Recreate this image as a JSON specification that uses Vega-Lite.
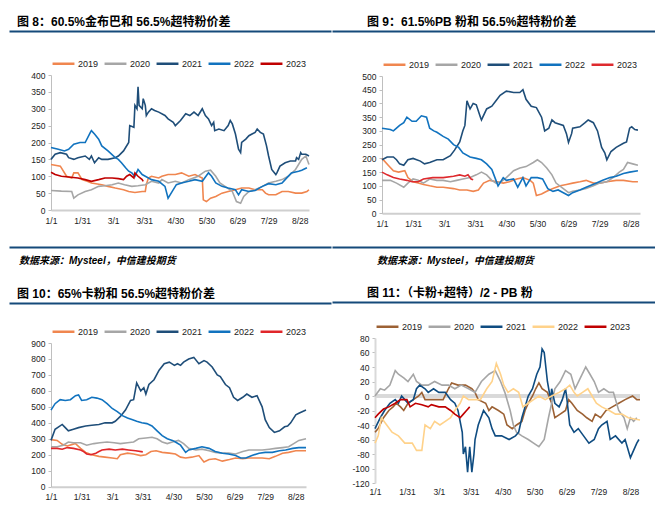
{
"$schema":"https://vega.github.io/schema/vega-lite/v6.json",
"background":"white",
"padding":{"left":8,"top":16,"right":0,"bottom":0},
"config":{"font":"Liberation Sans","view":{"stroke":null},
"axis":{"grid":false,"title":null,"labelFont":"Liberation Sans","labelFontSize":8.5,"labelColor":"#222"},
"axisX":{"domainColor":"#CFCFCF","domainWidth":2,"ticks":false,"labelPadding":6,"labelFlush":false,"labelOverlap":false},
"axisY":{"domainColor":"#BFBFBF","domainWidth":1,"tickColor":"#BFBFBF","tickSize":3,"labelPadding":3,"labelOverlap":false},
"legend":{"orient":"top","direction":"horizontal","symbolType":"stroke","symbolSize":480,"symbolStrokeWidth":2.5,"labelFontSize":9,"labelFont":"Liberation Sans","labelColor":"#222","columnPadding":0,"labelOffset":2,"offset":6,"padding":0},
"title":{"font":"Liberation Sans, Noto Sans CJK SC","fontSize":12,"fontWeight":"bold","color":"#000","anchor":"start","offset":2}},
"datasets":{
"A":[
{"s":"2019","d":0,"v":135},{"s":"2019","d":9,"v":130},{"s":"2019","d":15,"v":100},{"s":"2019","d":20,"v":95},{"s":"2019","d":22,"v":110},{"s":"2019","d":26,"v":110},{"s":"2019","d":30,"v":90},{"s":"2019","d":35,"v":85},{"s":"2019","d":39,"v":80},{"s":"2019","d":49,"v":75},{"s":"2019","d":55,"v":70},{"s":"2019","d":62,"v":65},{"s":"2019","d":70,"v":60},{"s":"2019","d":75,"v":55},{"s":"2019","d":81,"v":52},{"s":"2019","d":88,"v":55},{"s":"2019","d":91,"v":55},{"s":"2019","d":92,"v":75},{"s":"2019","d":94,"v":95},{"s":"2019","d":97,"v":100},{"s":"2019","d":104,"v":95},{"s":"2019","d":107,"v":100},{"s":"2019","d":113,"v":105},{"s":"2019","d":120,"v":105},{"s":"2019","d":126,"v":110},{"s":"2019","d":133,"v":100},{"s":"2019","d":139,"v":105},{"s":"2019","d":146,"v":95},{"s":"2019","d":147,"v":30},{"s":"2019","d":150,"v":25},{"s":"2019","d":154,"v":35},{"s":"2019","d":159,"v":40},{"s":"2019","d":165,"v":50},{"s":"2019","d":171,"v":55},{"s":"2019","d":178,"v":60},{"s":"2019","d":184,"v":65},{"s":"2019","d":191,"v":65},{"s":"2019","d":197,"v":60},{"s":"2019","d":204,"v":60},{"s":"2019","d":207,"v":50},{"s":"2019","d":210,"v":45},{"s":"2019","d":217,"v":45},{"s":"2019","d":223,"v":55},{"s":"2019","d":229,"v":55},{"s":"2019","d":236,"v":50},{"s":"2019","d":242,"v":50},{"s":"2019","d":247,"v":55},{"s":"2019","d":249,"v":60},
{"s":"2020","d":0,"v":58},{"s":"2020","d":10,"v":56},{"s":"2020","d":20,"v":55},{"s":"2020","d":22,"v":35},{"s":"2020","d":26,"v":45},{"s":"2020","d":33,"v":55},{"s":"2020","d":39,"v":60},{"s":"2020","d":46,"v":70},{"s":"2020","d":52,"v":72},{"s":"2020","d":59,"v":75},{"s":"2020","d":65,"v":80},{"s":"2020","d":71,"v":75},{"s":"2020","d":78,"v":70},{"s":"2020","d":84,"v":72},{"s":"2020","d":91,"v":75},{"s":"2020","d":94,"v":80},{"s":"2020","d":97,"v":85},{"s":"2020","d":104,"v":80},{"s":"2020","d":107,"v":90},{"s":"2020","d":113,"v":80},{"s":"2020","d":120,"v":85},{"s":"2020","d":126,"v":80},{"s":"2020","d":133,"v":90},{"s":"2020","d":142,"v":100},{"s":"2020","d":149,"v":115},{"s":"2020","d":154,"v":118},{"s":"2020","d":159,"v":100},{"s":"2020","d":163,"v":80},{"s":"2020","d":168,"v":70},{"s":"2020","d":175,"v":55},{"s":"2020","d":179,"v":25},{"s":"2020","d":183,"v":20},{"s":"2020","d":186,"v":40},{"s":"2020","d":191,"v":55},{"s":"2020","d":197,"v":60},{"s":"2020","d":204,"v":70},{"s":"2020","d":210,"v":80},{"s":"2020","d":217,"v":85},{"s":"2020","d":223,"v":90},{"s":"2020","d":229,"v":100},{"s":"2020","d":236,"v":120},{"s":"2020","d":242,"v":150},{"s":"2020","d":246,"v":160},{"s":"2020","d":249,"v":135},
{"s":"2021","d":0,"v":150},{"s":"2021","d":4,"v":165},{"s":"2021","d":9,"v":170},{"s":"2021","d":15,"v":165},{"s":"2021","d":17,"v":155},{"s":"2021","d":22,"v":150},{"s":"2021","d":26,"v":155},{"s":"2021","d":33,"v":160},{"s":"2021","d":37,"v":150},{"s":"2021","d":39,"v":160},{"s":"2021","d":42,"v":140},{"s":"2021","d":46,"v":155},{"s":"2021","d":49,"v":150},{"s":"2021","d":55,"v":150},{"s":"2021","d":62,"v":155},{"s":"2021","d":65,"v":160},{"s":"2021","d":70,"v":175},{"s":"2021","d":75,"v":200},{"s":"2021","d":76,"v":250},{"s":"2021","d":80,"v":245},{"s":"2021","d":81,"v":310},{"s":"2021","d":83,"v":300},{"s":"2021","d":84,"v":365},{"s":"2021","d":85,"v":310},{"s":"2021","d":88,"v":300},{"s":"2021","d":89,"v":330},{"s":"2021","d":91,"v":310},{"s":"2021","d":92,"v":280},{"s":"2021","d":94,"v":290},{"s":"2021","d":97,"v":300},{"s":"2021","d":100,"v":295},{"s":"2021","d":104,"v":290},{"s":"2021","d":110,"v":280},{"s":"2021","d":113,"v":270},{"s":"2021","d":118,"v":260},{"s":"2021","d":120,"v":250},{"s":"2021","d":125,"v":265},{"s":"2021","d":130,"v":285},{"s":"2021","d":134,"v":280},{"s":"2021","d":138,"v":290},{"s":"2021","d":142,"v":280},{"s":"2021","d":146,"v":300},{"s":"2021","d":149,"v":280},{"s":"2021","d":152,"v":270},{"s":"2021","d":155,"v":250},{"s":"2021","d":157,"v":260},{"s":"2021","d":158,"v":235},{"s":"2021","d":162,"v":240},{"s":"2021","d":167,"v":235},{"s":"2021","d":171,"v":250},{"s":"2021","d":173,"v":265},{"s":"2021","d":175,"v":255},{"s":"2021","d":178,"v":225},{"s":"2021","d":181,"v":180},{"s":"2021","d":183,"v":170},{"s":"2021","d":184,"v":200},{"s":"2021","d":188,"v":210},{"s":"2021","d":191,"v":220},{"s":"2021","d":194,"v":225},{"s":"2021","d":197,"v":230},{"s":"2021","d":199,"v":240},{"s":"2021","d":202,"v":230},{"s":"2021","d":205,"v":225},{"s":"2021","d":208,"v":190},{"s":"2021","d":210,"v":160},{"s":"2021","d":213,"v":120},{"s":"2021","d":217,"v":105},{"s":"2021","d":218,"v":110},{"s":"2021","d":221,"v":130},{"s":"2021","d":226,"v":140},{"s":"2021","d":231,"v":145},{"s":"2021","d":236,"v":145},{"s":"2021","d":237,"v":155},{"s":"2021","d":239,"v":150},{"s":"2021","d":241,"v":170},{"s":"2021","d":242,"v":165},{"s":"2021","d":246,"v":165},{"s":"2021","d":249,"v":160},
{"s":"2022","d":0,"v":185},{"s":"2022","d":7,"v":180},{"s":"2022","d":13,"v":175},{"s":"2022","d":17,"v":180},{"s":"2022","d":22,"v":195},{"s":"2022","d":28,"v":200},{"s":"2022","d":33,"v":200},{"s":"2022","d":38,"v":230},{"s":"2022","d":39,"v":235},{"s":"2022","d":42,"v":225},{"s":"2022","d":46,"v":210},{"s":"2022","d":49,"v":190},{"s":"2022","d":55,"v":175},{"s":"2022","d":62,"v":155},{"s":"2022","d":65,"v":150},{"s":"2022","d":68,"v":140},{"s":"2022","d":72,"v":125},{"s":"2022","d":75,"v":115},{"s":"2022","d":78,"v":110},{"s":"2022","d":81,"v":100},{"s":"2022","d":84,"v":120},{"s":"2022","d":88,"v":105},{"s":"2022","d":91,"v":100},{"s":"2022","d":97,"v":90},{"s":"2022","d":104,"v":85},{"s":"2022","d":110,"v":70},{"s":"2022","d":113,"v":35},{"s":"2022","d":117,"v":55},{"s":"2022","d":121,"v":75},{"s":"2022","d":126,"v":80},{"s":"2022","d":133,"v":85},{"s":"2022","d":139,"v":90},{"s":"2022","d":146,"v":85},{"s":"2022","d":152,"v":110},{"s":"2022","d":155,"v":100},{"s":"2022","d":159,"v":80},{"s":"2022","d":165,"v":70},{"s":"2022","d":171,"v":65},{"s":"2022","d":178,"v":60},{"s":"2022","d":181,"v":45},{"s":"2022","d":184,"v":60},{"s":"2022","d":191,"v":55},{"s":"2022","d":197,"v":58},{"s":"2022","d":204,"v":70},{"s":"2022","d":210,"v":78},{"s":"2022","d":217,"v":75},{"s":"2022","d":223,"v":80},{"s":"2022","d":226,"v":90},{"s":"2022","d":232,"v":110},{"s":"2022","d":239,"v":115},{"s":"2022","d":242,"v":118},{"s":"2022","d":247,"v":125},
{"s":"2023","d":0,"v":112},{"s":"2023","d":4,"v":105},{"s":"2023","d":10,"v":100},{"s":"2023","d":17,"v":98},{"s":"2023","d":26,"v":95},{"s":"2023","d":33,"v":90},{"s":"2023","d":39,"v":85},{"s":"2023","d":46,"v":90},{"s":"2023","d":52,"v":95},{"s":"2023","d":59,"v":95},{"s":"2023","d":65,"v":93},{"s":"2023","d":70,"v":90},{"s":"2023","d":73,"v":100},{"s":"2023","d":76,"v":105},{"s":"2023","d":80,"v":95},{"s":"2023","d":81,"v":110},{"s":"2023","d":84,"v":100},{"s":"2023","d":88,"v":90},{"s":"2023","d":89,"v":85}],
"B":[
{"s":"2019","d":0,"v":200},{"s":"2019","d":6,"v":175},{"s":"2019","d":11,"v":155},{"s":"2019","d":16,"v":150},{"s":"2019","d":22,"v":155},{"s":"2019","d":25,"v":130},{"s":"2019","d":30,"v":115},{"s":"2019","d":35,"v":110},{"s":"2019","d":40,"v":105},{"s":"2019","d":46,"v":100},{"s":"2019","d":53,"v":95},{"s":"2019","d":59,"v":95},{"s":"2019","d":69,"v":90},{"s":"2019","d":75,"v":85},{"s":"2019","d":82,"v":85},{"s":"2019","d":88,"v":80},{"s":"2019","d":93,"v":85},{"s":"2019","d":98,"v":110},{"s":"2019","d":104,"v":120},{"s":"2019","d":111,"v":115},{"s":"2019","d":117,"v":110},{"s":"2019","d":123,"v":115},{"s":"2019","d":130,"v":125},{"s":"2019","d":136,"v":130},{"s":"2019","d":143,"v":120},{"s":"2019","d":146,"v":110},{"s":"2019","d":149,"v":65},{"s":"2019","d":154,"v":70},{"s":"2019","d":159,"v":80},{"s":"2019","d":165,"v":90},{"s":"2019","d":172,"v":100},{"s":"2019","d":178,"v":105},{"s":"2019","d":184,"v":110},{"s":"2019","d":191,"v":115},{"s":"2019","d":197,"v":120},{"s":"2019","d":204,"v":110},{"s":"2019","d":210,"v":110},{"s":"2019","d":217,"v":115},{"s":"2019","d":226,"v":120},{"s":"2019","d":233,"v":120},{"s":"2019","d":242,"v":115},{"s":"2019","d":247,"v":115},
{"s":"2020","d":0,"v":120},{"s":"2020","d":8,"v":120},{"s":"2020","d":14,"v":110},{"s":"2020","d":21,"v":95},{"s":"2020","d":25,"v":110},{"s":"2020","d":30,"v":125},{"s":"2020","d":35,"v":120},{"s":"2020","d":40,"v":110},{"s":"2020","d":46,"v":125},{"s":"2020","d":53,"v":120},{"s":"2020","d":59,"v":120},{"s":"2020","d":66,"v":115},{"s":"2020","d":72,"v":120},{"s":"2020","d":78,"v":125},{"s":"2020","d":85,"v":130},{"s":"2020","d":91,"v":140},{"s":"2020","d":96,"v":150},{"s":"2020","d":101,"v":140},{"s":"2020","d":106,"v":120},{"s":"2020","d":110,"v":110},{"s":"2020","d":115,"v":115},{"s":"2020","d":120,"v":130},{"s":"2020","d":127,"v":155},{"s":"2020","d":133,"v":165},{"s":"2020","d":139,"v":170},{"s":"2020","d":146,"v":185},{"s":"2020","d":150,"v":195},{"s":"2020","d":154,"v":185},{"s":"2020","d":159,"v":165},{"s":"2020","d":164,"v":140},{"s":"2020","d":168,"v":110},{"s":"2020","d":175,"v":90},{"s":"2020","d":180,"v":75},{"s":"2020","d":184,"v":80},{"s":"2020","d":191,"v":85},{"s":"2020","d":197,"v":90},{"s":"2020","d":204,"v":100},{"s":"2020","d":210,"v":110},{"s":"2020","d":217,"v":115},{"s":"2020","d":223,"v":130},{"s":"2020","d":229,"v":150},{"s":"2020","d":233,"v":160},{"s":"2020","d":237,"v":185},{"s":"2020","d":242,"v":180},{"s":"2020","d":247,"v":175},
{"s":"2021","d":0,"v":195},{"s":"2021","d":5,"v":205},{"s":"2021","d":11,"v":205},{"s":"2021","d":14,"v":195},{"s":"2021","d":17,"v":180},{"s":"2021","d":21,"v":175},{"s":"2021","d":25,"v":195},{"s":"2021","d":30,"v":200},{"s":"2021","d":37,"v":190},{"s":"2021","d":41,"v":180},{"s":"2021","d":46,"v":185},{"s":"2021","d":53,"v":195},{"s":"2021","d":59,"v":195},{"s":"2021","d":66,"v":210},{"s":"2021","d":70,"v":230},{"s":"2021","d":75,"v":260},{"s":"2021","d":78,"v":300},{"s":"2021","d":80,"v":320},{"s":"2021","d":82,"v":410},{"s":"2021","d":85,"v":380},{"s":"2021","d":88,"v":400},{"s":"2021","d":91,"v":395},{"s":"2021","d":95,"v":350},{"s":"2021","d":96,"v":340},{"s":"2021","d":101,"v":380},{"s":"2021","d":106,"v":390},{"s":"2021","d":110,"v":410},{"s":"2021","d":114,"v":430},{"s":"2021","d":120,"v":445},{"s":"2021","d":127,"v":440},{"s":"2021","d":133,"v":440},{"s":"2021","d":136,"v":450},{"s":"2021","d":139,"v":415},{"s":"2021","d":144,"v":390},{"s":"2021","d":149,"v":385},{"s":"2021","d":154,"v":350},{"s":"2021","d":157,"v":300},{"s":"2021","d":161,"v":310},{"s":"2021","d":164,"v":340},{"s":"2021","d":167,"v":330},{"s":"2021","d":175,"v":320},{"s":"2021","d":178,"v":290},{"s":"2021","d":180,"v":258},{"s":"2021","d":183,"v":290},{"s":"2021","d":184,"v":310},{"s":"2021","d":191,"v":315},{"s":"2021","d":196,"v":330},{"s":"2021","d":199,"v":340},{"s":"2021","d":204,"v":330},{"s":"2021","d":208,"v":300},{"s":"2021","d":212,"v":240},{"s":"2021","d":215,"v":220},{"s":"2021","d":217,"v":195},{"s":"2021","d":221,"v":225},{"s":"2021","d":226,"v":240},{"s":"2021","d":233,"v":255},{"s":"2021","d":236,"v":260},{"s":"2021","d":239,"v":310},{"s":"2021","d":241,"v":315},{"s":"2021","d":244,"v":305},{"s":"2021","d":247,"v":303},
{"s":"2022","d":0,"v":310},{"s":"2022","d":8,"v":305},{"s":"2022","d":11,"v":300},{"s":"2022","d":14,"v":310},{"s":"2022","d":17,"v":320},{"s":"2022","d":21,"v":330},{"s":"2022","d":24,"v":350},{"s":"2022","d":29,"v":335},{"s":"2022","d":33,"v":335},{"s":"2022","d":38,"v":355},{"s":"2022","d":43,"v":350},{"s":"2022","d":46,"v":310},{"s":"2022","d":50,"v":300},{"s":"2022","d":53,"v":295},{"s":"2022","d":59,"v":280},{"s":"2022","d":64,"v":270},{"s":"2022","d":69,"v":250},{"s":"2022","d":74,"v":240},{"s":"2022","d":78,"v":220},{"s":"2022","d":85,"v":205},{"s":"2022","d":91,"v":200},{"s":"2022","d":96,"v":195},{"s":"2022","d":101,"v":180},{"s":"2022","d":106,"v":160},{"s":"2022","d":109,"v":130},{"s":"2022","d":112,"v":100},{"s":"2022","d":117,"v":130},{"s":"2022","d":120,"v":120},{"s":"2022","d":127,"v":125},{"s":"2022","d":131,"v":95},{"s":"2022","d":136,"v":130},{"s":"2022","d":139,"v":100},{"s":"2022","d":144,"v":130},{"s":"2022","d":150,"v":130},{"s":"2022","d":155,"v":125},{"s":"2022","d":160,"v":90},{"s":"2022","d":165,"v":80},{"s":"2022","d":170,"v":85},{"s":"2022","d":175,"v":75},{"s":"2022","d":180,"v":65},{"s":"2022","d":184,"v":75},{"s":"2022","d":191,"v":85},{"s":"2022","d":197,"v":95},{"s":"2022","d":207,"v":110},{"s":"2022","d":213,"v":120},{"s":"2022","d":220,"v":130},{"s":"2022","d":226,"v":135},{"s":"2022","d":233,"v":145},{"s":"2022","d":239,"v":150},{"s":"2022","d":247,"v":155},
{"s":"2023","d":0,"v":150},{"s":"2023","d":5,"v":140},{"s":"2023","d":11,"v":130},{"s":"2023","d":17,"v":125},{"s":"2023","d":24,"v":120},{"s":"2023","d":29,"v":115},{"s":"2023","d":35,"v":115},{"s":"2023","d":40,"v":125},{"s":"2023","d":49,"v":130},{"s":"2023","d":59,"v":130},{"s":"2023","d":69,"v":135},{"s":"2023","d":75,"v":140},{"s":"2023","d":80,"v":135},{"s":"2023","d":83,"v":140},{"s":"2023","d":86,"v":125},{"s":"2023","d":88,"v":122}],
"C":[
{"s":"2019","d":0,"v":295},{"s":"2019","d":6,"v":290},{"s":"2019","d":11,"v":265},{"s":"2019","d":16,"v":255},{"s":"2019","d":21,"v":265},{"s":"2019","d":24,"v":270},{"s":"2019","d":29,"v":240},{"s":"2019","d":34,"v":215},{"s":"2019","d":40,"v":200},{"s":"2019","d":47,"v":190},{"s":"2019","d":53,"v":185},{"s":"2019","d":60,"v":180},{"s":"2019","d":65,"v":175},{"s":"2019","d":68,"v":200},{"s":"2019","d":75,"v":210},{"s":"2019","d":81,"v":205},{"s":"2019","d":88,"v":195},{"s":"2019","d":93,"v":200},{"s":"2019","d":98,"v":220},{"s":"2019","d":103,"v":225},{"s":"2019","d":109,"v":215},{"s":"2019","d":116,"v":210},{"s":"2019","d":122,"v":205},{"s":"2019","d":127,"v":185},{"s":"2019","d":132,"v":180},{"s":"2019","d":138,"v":185},{"s":"2019","d":145,"v":195},{"s":"2019","d":148,"v":170},{"s":"2019","d":150,"v":155},{"s":"2019","d":155,"v":170},{"s":"2019","d":161,"v":175},{"s":"2019","d":168,"v":160},{"s":"2019","d":175,"v":170},{"s":"2019","d":181,"v":180},{"s":"2019","d":188,"v":175},{"s":"2019","d":194,"v":180},{"s":"2019","d":201,"v":180},{"s":"2019","d":207,"v":180},{"s":"2019","d":214,"v":175},{"s":"2019","d":220,"v":190},{"s":"2019","d":227,"v":210},{"s":"2019","d":233,"v":215},{"s":"2019","d":240,"v":225},{"s":"2019","d":250,"v":225},
{"s":"2020","d":0,"v":250},{"s":"2020","d":6,"v":250},{"s":"2020","d":12,"v":260},{"s":"2020","d":17,"v":280},{"s":"2020","d":22,"v":275},{"s":"2020","d":29,"v":275},{"s":"2020","d":35,"v":260},{"s":"2020","d":42,"v":270},{"s":"2020","d":48,"v":275},{"s":"2020","d":55,"v":280},{"s":"2020","d":62,"v":275},{"s":"2020","d":68,"v":270},{"s":"2020","d":75,"v":275},{"s":"2020","d":81,"v":280},{"s":"2020","d":86,"v":300},{"s":"2020","d":93,"v":305},{"s":"2020","d":99,"v":310},{"s":"2020","d":104,"v":300},{"s":"2020","d":109,"v":280},{"s":"2020","d":114,"v":270},{"s":"2020","d":119,"v":280},{"s":"2020","d":125,"v":290},{"s":"2020","d":130,"v":270},{"s":"2020","d":135,"v":240},{"s":"2020","d":142,"v":230},{"s":"2020","d":148,"v":235},{"s":"2020","d":155,"v":225},{"s":"2020","d":161,"v":215},{"s":"2020","d":168,"v":210},{"s":"2020","d":174,"v":210},{"s":"2020","d":181,"v":205},{"s":"2020","d":188,"v":220},{"s":"2020","d":194,"v":230},{"s":"2020","d":201,"v":230},{"s":"2020","d":207,"v":230},{"s":"2020","d":214,"v":235},{"s":"2020","d":220,"v":240},{"s":"2020","d":227,"v":245},{"s":"2020","d":233,"v":250},{"s":"2020","d":238,"v":270},{"s":"2020","d":243,"v":290},{"s":"2020","d":250,"v":300},
{"s":"2021","d":0,"v":290},{"s":"2021","d":4,"v":360},{"s":"2021","d":11,"v":390},{"s":"2021","d":14,"v":370},{"s":"2021","d":17,"v":350},{"s":"2021","d":22,"v":360},{"s":"2021","d":27,"v":370},{"s":"2021","d":34,"v":380},{"s":"2021","d":40,"v":385},{"s":"2021","d":47,"v":390},{"s":"2021","d":53,"v":400},{"s":"2021","d":60,"v":400},{"s":"2021","d":63,"v":410},{"s":"2021","d":68,"v":440},{"s":"2021","d":73,"v":480},{"s":"2021","d":78,"v":540},{"s":"2021","d":81,"v":545},{"s":"2021","d":84,"v":650},{"s":"2021","d":88,"v":600},{"s":"2021","d":91,"v":620},{"s":"2021","d":93,"v":580},{"s":"2021","d":96,"v":640},{"s":"2021","d":101,"v":670},{"s":"2021","d":106,"v":730},{"s":"2021","d":111,"v":770},{"s":"2021","d":116,"v":780},{"s":"2021","d":121,"v":760},{"s":"2021","d":124,"v":770},{"s":"2021","d":127,"v":760},{"s":"2021","d":130,"v":780},{"s":"2021","d":135,"v":800},{"s":"2021","d":140,"v":810},{"s":"2021","d":145,"v":770},{"s":"2021","d":150,"v":790},{"s":"2021","d":153,"v":780},{"s":"2021","d":158,"v":750},{"s":"2021","d":163,"v":700},{"s":"2021","d":166,"v":690},{"s":"2021","d":171,"v":640},{"s":"2021","d":175,"v":620},{"s":"2021","d":179,"v":560},{"s":"2021","d":183,"v":540},{"s":"2021","d":188,"v":560},{"s":"2021","d":192,"v":580},{"s":"2021","d":197,"v":560},{"s":"2021","d":202,"v":570},{"s":"2021","d":207,"v":500},{"s":"2021","d":210,"v":420},{"s":"2021","d":214,"v":370},{"s":"2021","d":219,"v":340},{"s":"2021","d":224,"v":350},{"s":"2021","d":229,"v":375},{"s":"2021","d":232,"v":380},{"s":"2021","d":235,"v":400},{"s":"2021","d":240,"v":450},{"s":"2021","d":243,"v":460},{"s":"2021","d":250,"v":480},
{"s":"2022","d":0,"v":480},{"s":"2022","d":4,"v":520},{"s":"2022","d":9,"v":545},{"s":"2022","d":14,"v":540},{"s":"2022","d":19,"v":545},{"s":"2022","d":24,"v":570},{"s":"2022","d":27,"v":575},{"s":"2022","d":30,"v":540},{"s":"2022","d":35,"v":545},{"s":"2022","d":40,"v":560},{"s":"2022","d":45,"v":555},{"s":"2022","d":50,"v":545},{"s":"2022","d":55,"v":520},{"s":"2022","d":60,"v":490},{"s":"2022","d":65,"v":470},{"s":"2022","d":70,"v":445},{"s":"2022","d":75,"v":430},{"s":"2022","d":80,"v":420},{"s":"2022","d":84,"v":410},{"s":"2022","d":89,"v":400},{"s":"2022","d":94,"v":395},{"s":"2022","d":99,"v":380},{"s":"2022","d":104,"v":350},{"s":"2022","d":109,"v":320},{"s":"2022","d":114,"v":300},{"s":"2022","d":119,"v":290},{"s":"2022","d":122,"v":280},{"s":"2022","d":127,"v":260},{"s":"2022","d":132,"v":215},{"s":"2022","d":135,"v":230},{"s":"2022","d":142,"v":240},{"s":"2022","d":148,"v":250},{"s":"2022","d":155,"v":240},{"s":"2022","d":161,"v":220},{"s":"2022","d":168,"v":210},{"s":"2022","d":174,"v":205},{"s":"2022","d":181,"v":195},{"s":"2022","d":186,"v":180},{"s":"2022","d":191,"v":180},{"s":"2022","d":197,"v":195},{"s":"2022","d":204,"v":210},{"s":"2022","d":210,"v":215},{"s":"2022","d":217,"v":215},{"s":"2022","d":224,"v":225},{"s":"2022","d":230,"v":230},{"s":"2022","d":237,"v":240},{"s":"2022","d":243,"v":245},{"s":"2022","d":250,"v":245},
{"s":"2023","d":0,"v":240},{"s":"2023","d":6,"v":240},{"s":"2023","d":11,"v":235},{"s":"2023","d":16,"v":245},{"s":"2023","d":22,"v":240},{"s":"2023","d":29,"v":230},{"s":"2023","d":32,"v":220},{"s":"2023","d":35,"v":205},{"s":"2023","d":39,"v":200},{"s":"2023","d":44,"v":210},{"s":"2023","d":47,"v":220},{"s":"2023","d":50,"v":230},{"s":"2023","d":57,"v":235},{"s":"2023","d":63,"v":230},{"s":"2023","d":70,"v":235},{"s":"2023","d":76,"v":230},{"s":"2023","d":83,"v":225},{"s":"2023","d":90,"v":218}],
"D":[
{"s":"2019","d":0,"v":-50},{"s":"2019","d":3,"v":-45},{"s":"2019","d":8,"v":-30},{"s":"2019","d":13,"v":-20},{"s":"2019","d":17,"v":-15},{"s":"2019","d":20,"v":-10},{"s":"2019","d":24,"v":-15},{"s":"2019","d":27,"v":-20},{"s":"2019","d":31,"v":-10},{"s":"2019","d":36,"v":-5},{"s":"2019","d":41,"v":0},{"s":"2019","d":44,"v":5},{"s":"2019","d":47,"v":-5},{"s":"2019","d":53,"v":-5},{"s":"2019","d":60,"v":-5},{"s":"2019","d":64,"v":-5},{"s":"2019","d":69,"v":10},{"s":"2019","d":72,"v":18},{"s":"2019","d":78,"v":15},{"s":"2019","d":85,"v":15},{"s":"2019","d":91,"v":10},{"s":"2019","d":94,"v":5},{"s":"2019","d":97,"v":-5},{"s":"2019","d":104,"v":-10},{"s":"2019","d":107,"v":-20},{"s":"2019","d":110,"v":-15},{"s":"2019","d":116,"v":-20},{"s":"2019","d":121,"v":-25},{"s":"2019","d":124,"v":-40},{"s":"2019","d":129,"v":-45},{"s":"2019","d":133,"v":-40},{"s":"2019","d":138,"v":-35},{"s":"2019","d":141,"v":-20},{"s":"2019","d":144,"v":-10},{"s":"2019","d":148,"v":0},{"s":"2019","d":151,"v":10},{"s":"2019","d":154,"v":18},{"s":"2019","d":157,"v":10},{"s":"2019","d":162,"v":5},{"s":"2019","d":166,"v":-10},{"s":"2019","d":169,"v":-30},{"s":"2019","d":174,"v":-25},{"s":"2019","d":179,"v":-20},{"s":"2019","d":182,"v":-5},{"s":"2019","d":185,"v":-10},{"s":"2019","d":190,"v":-20},{"s":"2019","d":195,"v":-25},{"s":"2019","d":199,"v":-30},{"s":"2019","d":204,"v":-35},{"s":"2019","d":207,"v":-25},{"s":"2019","d":212,"v":-30},{"s":"2019","d":217,"v":-20},{"s":"2019","d":223,"v":-15},{"s":"2019","d":229,"v":-10},{"s":"2019","d":235,"v":-5},{"s":"2019","d":242,"v":0},{"s":"2019","d":246,"v":-5},{"s":"2019","d":249,"v":-5},
{"s":"2020","d":0,"v":0},{"s":"2020","d":5,"v":10},{"s":"2020","d":9,"v":8},{"s":"2020","d":14,"v":15},{"s":"2020","d":19,"v":35},{"s":"2020","d":22,"v":30},{"s":"2020","d":27,"v":25},{"s":"2020","d":31,"v":20},{"s":"2020","d":36,"v":30},{"s":"2020","d":39,"v":20},{"s":"2020","d":44,"v":15},{"s":"2020","d":50,"v":15},{"s":"2020","d":56,"v":20},{"s":"2020","d":63,"v":15},{"s":"2020","d":69,"v":15},{"s":"2020","d":75,"v":10},{"s":"2020","d":81,"v":15},{"s":"2020","d":88,"v":10},{"s":"2020","d":94,"v":5},{"s":"2020","d":100,"v":20},{"s":"2020","d":107,"v":30},{"s":"2020","d":113,"v":35},{"s":"2020","d":118,"v":20},{"s":"2020","d":122,"v":5},{"s":"2020","d":127,"v":-20},{"s":"2020","d":130,"v":-40},{"s":"2020","d":133,"v":-50},{"s":"2020","d":138,"v":-55},{"s":"2020","d":144,"v":-60},{"s":"2020","d":149,"v":-65},{"s":"2020","d":154,"v":-70},{"s":"2020","d":159,"v":-60},{"s":"2020","d":163,"v":-30},{"s":"2020","d":166,"v":-10},{"s":"2020","d":169,"v":10},{"s":"2020","d":174,"v":20},{"s":"2020","d":179,"v":35},{"s":"2020","d":184,"v":30},{"s":"2020","d":188,"v":10},{"s":"2020","d":193,"v":25},{"s":"2020","d":198,"v":40},{"s":"2020","d":202,"v":30},{"s":"2020","d":206,"v":20},{"s":"2020","d":210,"v":5},{"s":"2020","d":215,"v":10},{"s":"2020","d":220,"v":5},{"s":"2020","d":224,"v":5},{"s":"2020","d":229,"v":-20},{"s":"2020","d":234,"v":-30},{"s":"2020","d":237,"v":-45},{"s":"2020","d":240,"v":-30},{"s":"2020","d":243,"v":-35},{"s":"2020","d":246,"v":-30},
{"s":"2021","d":0,"v":-45},{"s":"2021","d":5,"v":-30},{"s":"2021","d":9,"v":-20},{"s":"2021","d":14,"v":-10},{"s":"2021","d":19,"v":-5},{"s":"2021","d":22,"v":-10},{"s":"2021","d":25,"v":0},{"s":"2021","d":28,"v":-5},{"s":"2021","d":31,"v":-10},{"s":"2021","d":36,"v":-5},{"s":"2021","d":39,"v":10},{"s":"2021","d":42,"v":15},{"s":"2021","d":47,"v":10},{"s":"2021","d":50,"v":5},{"s":"2021","d":55,"v":10},{"s":"2021","d":60,"v":5},{"s":"2021","d":66,"v":5},{"s":"2021","d":71,"v":-5},{"s":"2021","d":75,"v":-10},{"s":"2021","d":78,"v":-20},{"s":"2021","d":82,"v":-50},{"s":"2021","d":83,"v":-80},{"s":"2021","d":85,"v":-70},{"s":"2021","d":87,"v":-105},{"s":"2021","d":89,"v":-70},{"s":"2021","d":91,"v":-105},{"s":"2021","d":93,"v":-80},{"s":"2021","d":94,"v":-60},{"s":"2021","d":97,"v":-40},{"s":"2021","d":102,"v":-20},{"s":"2021","d":107,"v":-30},{"s":"2021","d":110,"v":-45},{"s":"2021","d":113,"v":-55},{"s":"2021","d":119,"v":-55},{"s":"2021","d":126,"v":-60},{"s":"2021","d":132,"v":-55},{"s":"2021","d":135,"v":-50},{"s":"2021","d":138,"v":-30},{"s":"2021","d":141,"v":-15},{"s":"2021","d":144,"v":0},{"s":"2021","d":148,"v":10},{"s":"2021","d":152,"v":30},{"s":"2021","d":155,"v":40},{"s":"2021","d":157,"v":65},{"s":"2021","d":159,"v":60},{"s":"2021","d":162,"v":20},{"s":"2021","d":165,"v":-5},{"s":"2021","d":166,"v":10},{"s":"2021","d":169,"v":-10},{"s":"2021","d":173,"v":-15},{"s":"2021","d":176,"v":-5},{"s":"2021","d":179,"v":10},{"s":"2021","d":180,"v":0},{"s":"2021","d":183,"v":-40},{"s":"2021","d":187,"v":-50},{"s":"2021","d":191,"v":-45},{"s":"2021","d":196,"v":-55},{"s":"2021","d":201,"v":-65},{"s":"2021","d":206,"v":-60},{"s":"2021","d":210,"v":-45},{"s":"2021","d":213,"v":-40},{"s":"2021","d":218,"v":-35},{"s":"2021","d":221,"v":-60},{"s":"2021","d":226,"v":-55},{"s":"2021","d":232,"v":-65},{"s":"2021","d":235,"v":-60},{"s":"2021","d":240,"v":-85},{"s":"2021","d":243,"v":-75},{"s":"2021","d":246,"v":-65},{"s":"2021","d":248,"v":-60},
{"s":"2022","d":0,"v":-65},{"s":"2022","d":3,"v":-55},{"s":"2022","d":6,"v":-30},{"s":"2022","d":11,"v":-40},{"s":"2022","d":16,"v":-50},{"s":"2022","d":22,"v":-55},{"s":"2022","d":28,"v":-65},{"s":"2022","d":35,"v":-65},{"s":"2022","d":39,"v":-75},{"s":"2022","d":44,"v":-75},{"s":"2022","d":47,"v":-40},{"s":"2022","d":52,"v":-45},{"s":"2022","d":56,"v":-35},{"s":"2022","d":61,"v":-40},{"s":"2022","d":66,"v":-35},{"s":"2022","d":71,"v":-30},{"s":"2022","d":75,"v":-20},{"s":"2022","d":80,"v":-10},{"s":"2022","d":83,"v":0},{"s":"2022","d":88,"v":-5},{"s":"2022","d":93,"v":-5},{"s":"2022","d":99,"v":-5},{"s":"2022","d":105,"v":10},{"s":"2022","d":110,"v":20},{"s":"2022","d":114,"v":45},{"s":"2022","d":118,"v":30},{"s":"2022","d":121,"v":15},{"s":"2022","d":125,"v":5},{"s":"2022","d":130,"v":10},{"s":"2022","d":135,"v":5},{"s":"2022","d":139,"v":-15},{"s":"2022","d":144,"v":-10},{"s":"2022","d":149,"v":-5},{"s":"2022","d":154,"v":0},{"s":"2022","d":160,"v":-5},{"s":"2022","d":166,"v":0},{"s":"2022","d":173,"v":5},{"s":"2022","d":179,"v":10},{"s":"2022","d":183,"v":15},{"s":"2022","d":187,"v":5},{"s":"2022","d":190,"v":0},{"s":"2022","d":195,"v":5},{"s":"2022","d":200,"v":10},{"s":"2022","d":204,"v":0},{"s":"2022","d":208,"v":-10},{"s":"2022","d":213,"v":-15},{"s":"2022","d":220,"v":-20},{"s":"2022","d":226,"v":-25},{"s":"2022","d":232,"v":-25},{"s":"2022","d":238,"v":-30},{"s":"2022","d":245,"v":-32},{"s":"2022","d":249,"v":-33},
{"s":"2023","d":0,"v":-30},{"s":"2023","d":3,"v":-25},{"s":"2023","d":8,"v":-18},{"s":"2023","d":13,"v":-15},{"s":"2023","d":19,"v":-10},{"s":"2023","d":24,"v":-5},{"s":"2023","d":30,"v":-5},{"s":"2023","d":33,"v":-15},{"s":"2023","d":38,"v":-10},{"s":"2023","d":44,"v":-12},{"s":"2023","d":50,"v":-15},{"s":"2023","d":53,"v":-12},{"s":"2023","d":60,"v":-15},{"s":"2023","d":66,"v":-15},{"s":"2023","d":71,"v":-20},{"s":"2023","d":75,"v":-25},{"s":"2023","d":80,"v":-30},{"s":"2023","d":83,"v":-25},{"s":"2023","d":86,"v":-20},{"s":"2023","d":89,"v":-15}]
},
"resolve":{"scale":{"color":"independent"},"legend":{"color":"independent"}},
"spacing":0,
"hconcat":[
{"spacing":0,"resolve":{"scale":{"color":"independent"},"legend":{"color":"independent"}},
"vconcat":[
{"width":322,"height":19.3,"title":{"text":"图 8：60.5%金布巴和 56.5%超特粉价差","dx":8},"data":{"values":[{"d":0},{"d":1}]},"mark":{"type":"rule","opacity":0,"strokeWidth":0},"encoding":{"x":{"field":"d","type":"quantitative","scale":{"domain":[0,1],"nice":false},"axis":{"orient":"top","labels":false,"ticks":false,"domainColor":"#154A7A","domainWidth":2}}}},
{"spacing":0,"resolve":{"scale":{"color":"independent"},"legend":{"color":"independent"}},"hconcat":[
{"width":21,"height":1,"data":{"values":[{"d":0}]},"mark":{"type":"rule","opacity":0,"strokeWidth":0},"encoding":{}},
{"width":258,"height":135,"data":{"name":"A"},"layer":[{"mark":{"type":"line","strokeWidth":1.6},"encoding":{
"x":{"field":"d","type":"quantitative","scale":{"domain":[0,249],"nice":false,"zero":false},"axis":{"labelOverlap":false,"values":[0,30,60,90,120,150,180,210,240],"labelExpr":"['1/1','1/31','3/1','3/31','4/30','5/30','6/29','7/29','8/28'][datum.value/30]"}},
"y":{"field":"v","type":"quantitative","scale":{"domain":[0,400],"nice":false},"axis":{"labelOverlap":false,"values":[0,50,100,150,200,250,300,350,400]}},
"color":{"field":"s","type":"nominal","scale":{"domain":["2019","2020","2021","2022","2023"],"range":["#F0864F","#A6A6A6","#1F4E79","#1173BF","#C00000"]},"legend":{"title":null}}}}]}
]},
{"width":322,"height":22.1,"title":{"text":"数据来源：Mysteel，中信建投期货","orient":"bottom","dx":10,"fontSize":10,"fontStyle":"italic","offset":9},"data":{"values":[{"d":0},{"d":1}]},"mark":{"type":"rule","opacity":0,"strokeWidth":0},"encoding":{"x":{"field":"d","type":"quantitative","scale":{"domain":[0,1],"nice":false},"axis":{"orient":"bottom","labels":false,"ticks":false,"domainColor":"#154A7A","domainWidth":2}}}},
{"width":1,"height":19.2,"data":{"values":[{"d":0}]},"mark":{"type":"rule","opacity":0,"strokeWidth":0},"encoding":{}},
{"width":322,"height":15.3,"title":{"text":"图 10：65%卡粉和 56.5%超特粉价差","dx":8},"data":{"values":[{"d":0},{"d":1}]},"mark":{"type":"rule","opacity":0,"strokeWidth":0},"encoding":{"x":{"field":"d","type":"quantitative","scale":{"domain":[0,1],"nice":false},"axis":{"orient":"top","labels":false,"ticks":false,"domainColor":"#154A7A","domainWidth":2}}}},
{"spacing":0,"resolve":{"scale":{"color":"independent"},"legend":{"color":"independent"}},"hconcat":[
{"width":21,"height":1,"data":{"values":[{"d":0}]},"mark":{"type":"rule","opacity":0,"strokeWidth":0},"encoding":{}},
{"width":255,"height":143.7,"data":{"name":"C"},"layer":[{"mark":{"type":"line","strokeWidth":1.6},"encoding":{
"x":{"field":"d","type":"quantitative","scale":{"domain":[0,250],"nice":false,"zero":false},"axis":{"labelOverlap":false,"values":[0,30,60,90,120,150,180,210,240],"labelExpr":"['1/1','1/31','3/1','3/31','4/30','5/30','6/29','7/29','8/28'][datum.value/30]"}},
"y":{"field":"v","type":"quantitative","scale":{"domain":[0,900],"nice":false},"axis":{"labelOverlap":false,"values":[0,100,200,300,400,500,600,700,800,900]}},
"strokeWidth":{"condition":{"test":"datum.s==='2023'","value":3},"value":1.6},
"color":{"field":"s","type":"nominal","scale":{"domain":["2019","2020","2021","2022","2023"],"range":["#F0864F","#A6A6A6","#1F4E79","#1173BF","#E0262A"]},"legend":{"title":null}}}}]}
]}
]},
{"spacing":0,"resolve":{"scale":{"color":"independent"},"legend":{"color":"independent"}},
"vconcat":[
{"width":325,"height":20.7,"title":{"text":"图 9：61.5%PB 粉和 56.5%超特粉价差","dx":35},"data":{"values":[{"d":0},{"d":1}]},"mark":{"type":"rule","opacity":0,"strokeWidth":0},"encoding":{"x":{"field":"d","type":"quantitative","scale":{"domain":[0,1],"nice":false},"axis":{"orient":"top","labels":false,"ticks":false,"domainColor":"#154A7A","domainWidth":2}}}},
{"spacing":0,"resolve":{"scale":{"color":"independent"},"legend":{"color":"independent"}},"hconcat":[
{"width":28.5,"height":1,"data":{"values":[{"d":0}]},"mark":{"type":"rule","opacity":0,"strokeWidth":0},"encoding":{}},
{"width":258,"height":137.3,"data":{"name":"B"},"layer":[{"mark":{"type":"line","strokeWidth":1.6},"encoding":{
"x":{"field":"d","type":"quantitative","scale":{"domain":[0,249],"nice":false,"zero":false},"axis":{"labelOverlap":false,"values":[0,30,60,90,120,150,180,210,240],"labelExpr":"['1/1','1/31','3/1','3/31','4/30','5/30','6/29','7/29','8/28'][datum.value/30]"}},
"y":{"field":"v","type":"quantitative","scale":{"domain":[0,500],"nice":false},"axis":{"labelOverlap":false,"values":[0,50,100,150,200,250,300,350,400,450,500]}},
"color":{"field":"s","type":"nominal","scale":{"domain":["2019","2020","2021","2022","2023"],"range":["#F0864F","#A6A6A6","#1F4E79","#1173BF","#DE2A2E"]},"legend":{"title":null}}}}]}
]},
{"width":325,"height":19.1,"title":{"text":"数据来源：Mysteel，中信建投期货","orient":"bottom","dx":45,"fontSize":10,"fontStyle":"italic","offset":9},"data":{"values":[{"d":0},{"d":1}]},"mark":{"type":"rule","opacity":0,"strokeWidth":0},"encoding":{"x":{"field":"d","type":"quantitative","scale":{"domain":[0,1],"nice":false},"axis":{"orient":"bottom","labels":false,"ticks":false,"domainColor":"#154A7A","domainWidth":2}}}},
{"width":1,"height":18.5,"data":{"values":[{"d":0}]},"mark":{"type":"rule","opacity":0,"strokeWidth":0},"encoding":{}},
{"width":325,"height":11.6,"title":{"text":"图 11：（卡粉+超特）/2 - PB 粉","dx":35},"data":{"values":[{"d":0},{"d":1}]},"mark":{"type":"rule","opacity":0,"strokeWidth":0},"encoding":{"x":{"field":"d","type":"quantitative","scale":{"domain":[0,1],"nice":false},"axis":{"orient":"top","labels":false,"ticks":false,"domainColor":"#154A7A","domainWidth":2}}}},
{"spacing":0,"resolve":{"scale":{"color":"independent"},"legend":{"color":"independent"}},"hconcat":[
{"width":18.2,"height":1,"data":{"values":[{"d":0}]},"mark":{"type":"rule","opacity":0,"strokeWidth":0},"encoding":{}},
{"width":265,"height":145,"data":{"name":"D"},"layer":[
{"mark":{"type":"rule","color":"#D9D9D9","strokeWidth":3},"encoding":{"y":{"datum":0,"type":"quantitative","scale":{"domain":[-120,80],"nice":false},"axis":{"labelOverlap":false,"domainColor":"#D9D9D9","domainWidth":2,"values":[-120,-100,-80,-60,-40,-20,0,20,40,60,80],"labelExpr":"datum.value < 0 ? '-' + abs(datum.value) : '' + datum.value"}}}},
{"mark":{"type":"line","strokeWidth":1.6},"encoding":{
"x":{"field":"d","type":"quantitative","scale":{"domain":[0,249],"nice":false,"zero":false},"axis":{"domain":false,"labelPadding":4,"labelOverlap":false,"values":[0,30,60,90,120,150,180,210,240],"labelExpr":"['1/1','1/31','3/1','3/31','4/30','5/30','6/29','7/29','8/28'][datum.value/30]"}},
"y":{"field":"v","type":"quantitative","scale":{"domain":[-120,80],"nice":false},"axis":{"labelOverlap":false,"domainColor":"#D9D9D9","domainWidth":2,"values":[-120,-100,-80,-60,-40,-20,0,20,40,60,80],"labelExpr":"datum.value < 0 ? '-' + abs(datum.value) : '' + datum.value"}},
"color":{"field":"s","type":"nominal","scale":{"domain":["2019","2020","2021","2022","2023"],"range":["#9C6134","#A6A6A6","#0F4C81","#FFD28A","#C00000"]},"legend":{"title":null}}}}]}
]}
]}
]
}
